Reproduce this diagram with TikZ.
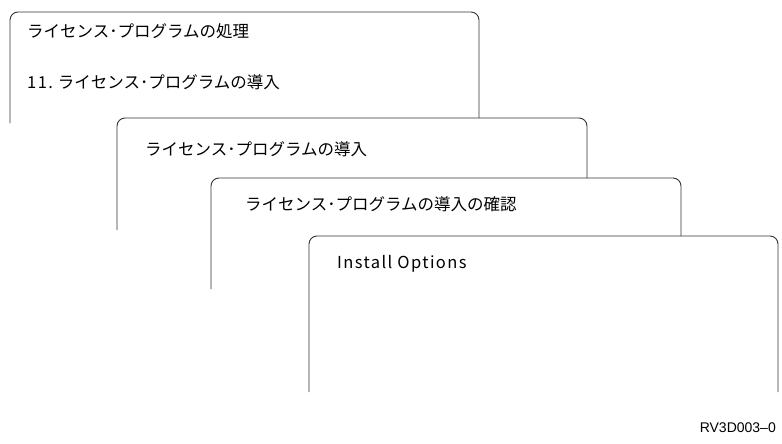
\documentclass[tikz,border=0pt]{standalone}
\usepackage{fontspec}
\setmainfont{Liberation Sans}
\newfontfamily\jpfont{Noto Sans CJK JP}
\newfontfamily\hwfont[LetterSpace=8.5]{Noto Sans CJK JP}
\usepackage{tikz}
\usetikzlibrary{positioning}

\tikzset{
  screen/.style={draw=black!80, line width=0.9pt, rounded corners=8pt},
  scrtext/.style={anchor=west, inner sep=0pt, font=\jpfont\fontsize{16.5}{19}\selectfont}
}

\begin{document}
\begin{tikzpicture}[x=1pt, y=-1pt]
  \useasboundingbox (0,0) rectangle (782,444);

  % screens, back to front
  \draw[screen] (10,123) -- (10,12) -- (479,12) [sharp corners] -- (479,118);
  \draw[screen] (117,230) -- (117,118) -- (587,118) [sharp corners] -- (587,178);
  \draw[screen] (211,289) -- (211,178) -- (681,178) [sharp corners] -- (681,236);
  \draw[screen] (309,392) -- (309,236) -- (778,236) [sharp corners] -- (778,392);

  \node[scrtext] (menu) at (27,31) {ライセンス･プログラムの処理};
  \node[scrtext] (opt) at (27,82) {{\hwfont 11.} ライセンス･プログラムの導入};
  \node[scrtext] (inst) at (145,149) {ライセンス･プログラムの導入};
  \node[scrtext] (conf) at (245,204) {ライセンス･プログラムの導入の確認};
  \node[scrtext, font=\hwfont\fontsize{16.5}{19}\selectfont] (iopt) at (337,264) {Install Options};

  \node[anchor=east, inner sep=0pt, font=\fontsize{14}{16}\selectfont] (fig) at (776,428) {RV3D003–0};
\end{tikzpicture}
\end{document}
